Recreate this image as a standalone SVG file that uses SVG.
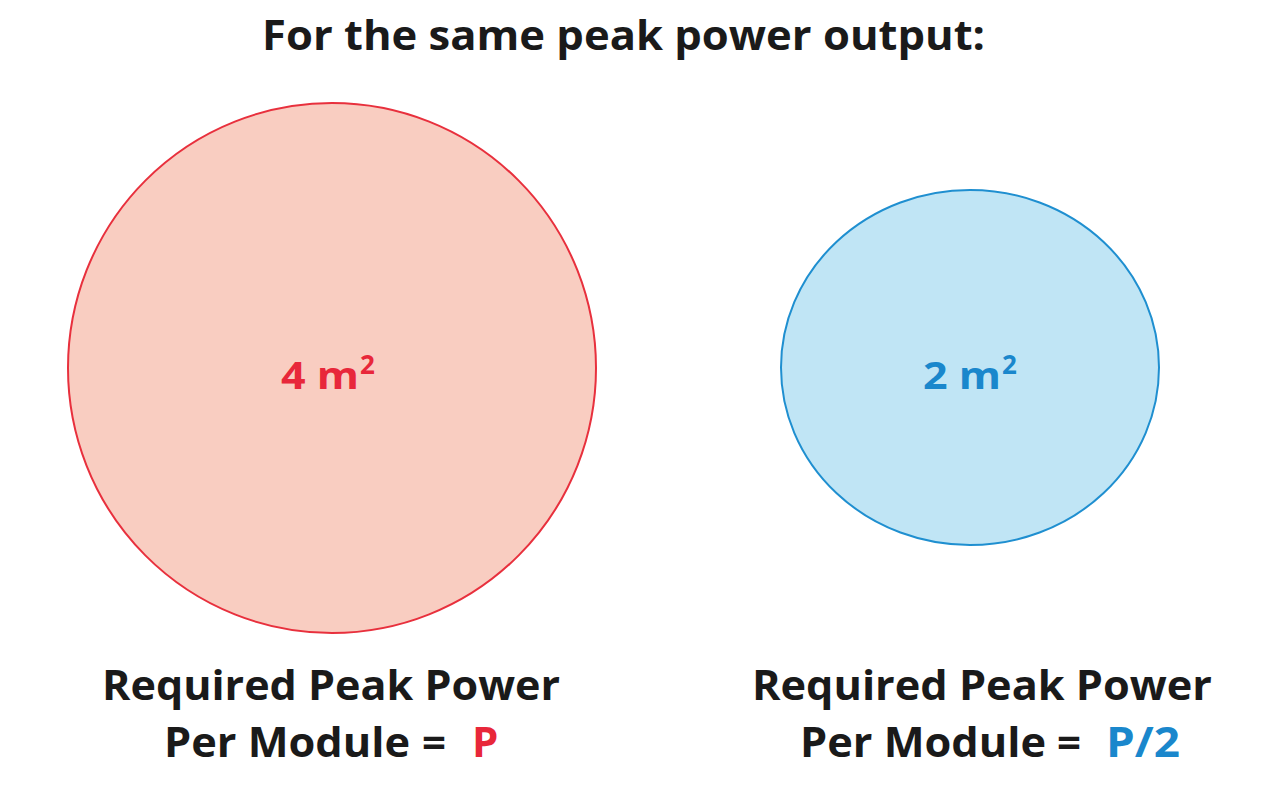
<svg xmlns="http://www.w3.org/2000/svg" width="1280" height="800" viewBox="0 0 1280 800">
<style>
text{font-family:"Open Sans","Noto Sans","Liberation Sans",sans-serif;font-weight:700;}
.t{fill:#1a1a1a;font-size:42px;}
.red{fill:#e8273a;}
.blue{fill:#1a87cc;}
</style>
<rect width="1280" height="800" fill="#ffffff"/>
<text class="t" x="262" y="50" font-size="44" textLength="723" lengthAdjust="spacingAndGlyphs">For the same peak power output:</text>
<g id="red-circle">
<ellipse cx="332" cy="368" rx="264" ry="265" fill="#f9cdc1" stroke="#e8303d" stroke-width="2"/>
<text x="281" y="389" class="red" font-size="38" textLength="78" lengthAdjust="spacingAndGlyphs">4 m</text>
<text x="360" y="374" class="red" font-size="26">2</text>
</g>
<g id="blue-circle">
<ellipse cx="970" cy="367.5" rx="189" ry="177.5" fill="#c0e5f5" stroke="#1f8fd0" stroke-width="2"/>
<text x="923" y="389" class="blue" font-size="38" textLength="78" lengthAdjust="spacingAndGlyphs">2 m</text>
<text x="1002" y="374" class="blue" font-size="26">2</text>
</g>
<g id="left-label">
<text class="t" x="102" y="700" textLength="458" lengthAdjust="spacingAndGlyphs">Required Peak Power</text>
<text class="t" x="164" y="757" textLength="246" lengthAdjust="spacingAndGlyphs">Per Module</text>
<text class="t" x="422" y="757">=</text>
<text class="t red" x="472" y="757">P</text>
</g>
<g id="right-label">
<text class="t" x="752" y="700" textLength="460" lengthAdjust="spacingAndGlyphs">Required Peak Power</text>
<text class="t" x="800" y="757" textLength="246" lengthAdjust="spacingAndGlyphs">Per Module</text>
<text class="t" x="1057" y="757">=</text>
<text class="t blue" x="1106" y="757" textLength="74" lengthAdjust="spacingAndGlyphs">P/2</text>
</g>
</svg>
